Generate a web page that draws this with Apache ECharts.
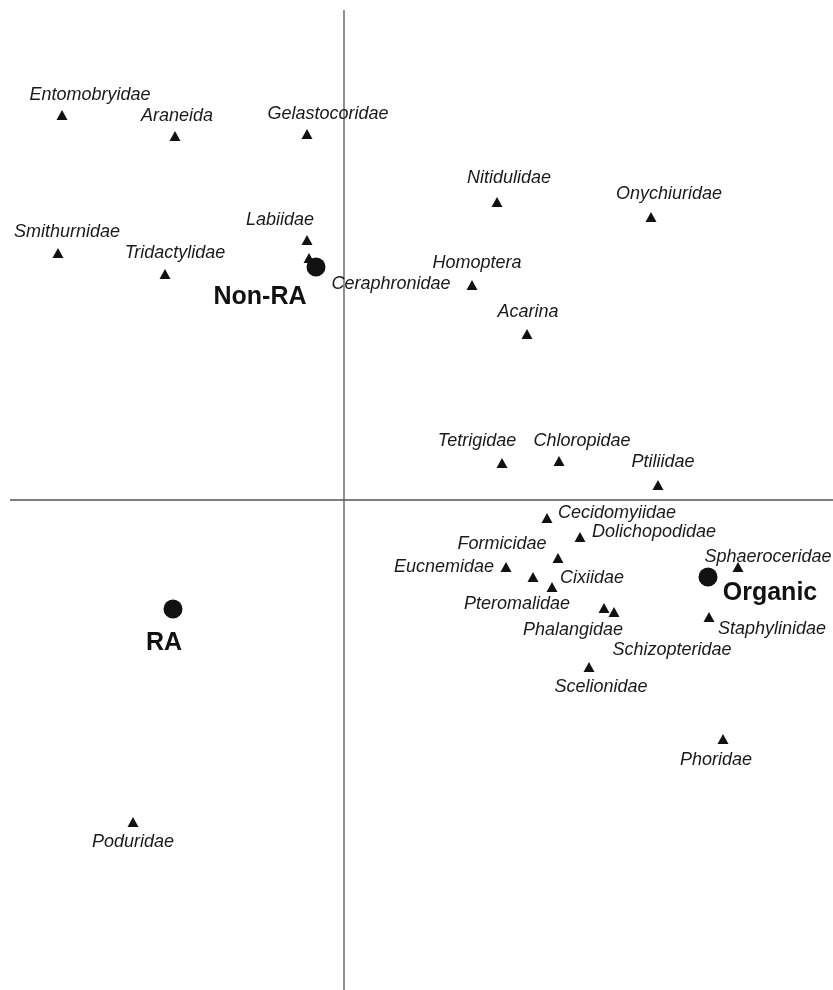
<!DOCTYPE html>
<html>
<head>
<meta charset="utf-8">
<script src="https://cdn.jsdelivr.net/npm/echarts@6/dist/echarts.min.js"></script>
<style>html,body{margin:0;padding:0;background:#fff;}#chart{width:833px;height:990px;}</style>
</head>
<body>
<div id="chart"></div>
<script>
// Taxa (triangles): names and axis-1 / axis-2 scores
const taxa = ['Entomobryidae','Araneida','Gelastocoridae','Smithurnidae','Tridactylidae','Labiidae','Ceraphronidae',
  'Nitidulidae','Onychiuridae','Homoptera','Acarina','Tetrigidae','Chloropidae','Ptiliidae','Cecidomyiidae',
  'Dolichopodidae','Formicidae','Eucnemidae','Pteromalidae','Cixiidae','Phalangidae','Schizopteridae',
  'Sphaeroceridae','Staphylinidae','Scelionidae','Phoridae','Poduridae'];
const taxaX = [-2.82,-1.69,-0.37,-2.86,-1.79,-0.37,-0.35,1.53,3.07,1.28,1.83,1.58,2.15,3.14,2.03,
  2.36,2.14,1.62,1.89,2.08,2.60,2.70,3.94,3.65,2.45,3.79,-2.11];
const taxaY = [3.85,3.64,3.66,2.47,2.26,2.60,2.42,2.98,2.83,2.15,1.66,0.37,0.39,0.15,-0.18,
  -0.37,-0.58,-0.67,-0.77,-0.87,-1.08,-1.12,-0.67,-1.17,-1.67,-2.39,-3.22];

// Treatments (circles)
const treatments = ['Non-RA','Organic','RA'];
const treatX = [-0.28,3.64,-1.71];
const treatY = [2.33,-0.77,-1.09];

// Label placement (pixel offsets from marker to label centre) — styling only
const taxaLabelOffsets = [[28,-20],[2,-20],[21,-20],[9,-21],[10,-21],[-27,-20],[82,26],
  [12,-24],[18,-23],[5,-22],[1,-22],[-25,-22],[23,-20],[5,-23],[70,-5],
  [74,-5],[-56,-14],[-62,0],[-16,27],[40,-9],[-31,22],[58,38],
  [30,-10],[63,12],[12,20],[-7,21],[0,20]];
const treatLabelOffsets = [[-56,30],[62,16],[-9,34]];

const chart = echarts.init(document.getElementById('chart'), null, {renderer:'canvas'});

const taxaData = taxa.map((n,i)=>({
  value:[taxaX[i],taxaY[i]], name:n,
  label:{offset:taxaLabelOffsets[i]}
}));
const treatData = treatments.map((n,i)=>({
  value:[treatX[i],treatY[i]], name:n,
  label:{offset:treatLabelOffsets[i]}
}));

const axisLineStyle = {color:'#555', width:1.3, opacity:1};

chart.setOption({
  animation:false,
  backgroundColor:'#fff',
  grid:{left:0,right:0,top:0,bottom:0},
  xAxis:{type:'value',min:-3.44,max:4.89,show:false},
  yAxis:{type:'value',min:-4.90,max:5.00,show:false},
  series:[
    {type:'line',data:[[0,4.90],[0,-4.90]],showSymbol:false,silent:true,lineStyle:axisLineStyle,z:1},
    {type:'line',data:[[-3.34,0],[4.89,0]],showSymbol:false,silent:true,lineStyle:axisLineStyle,z:1},
    {
      type:'scatter',symbol:'triangle',symbolSize:[11,10],
      itemStyle:{color:'#111',opacity:1},z:3,
      label:{show:true,position:'inside',align:'center',verticalAlign:'middle',
        formatter:'{b}',color:'#1a1a1a',fontSize:18,fontStyle:'italic',
        fontFamily:'Liberation Sans, Arial, sans-serif'},
      data:taxaData
    },
    {
      type:'scatter',symbol:'circle',symbolSize:19,
      itemStyle:{color:'#111',opacity:1},z:4,
      label:{show:true,position:'inside',align:'center',verticalAlign:'middle',
        formatter:'{b}',color:'#111',fontSize:25,fontWeight:'bold',
        fontFamily:'Liberation Sans, Arial, sans-serif'},
      data:treatData
    }
  ]
});
</script>
</body>
</html>
